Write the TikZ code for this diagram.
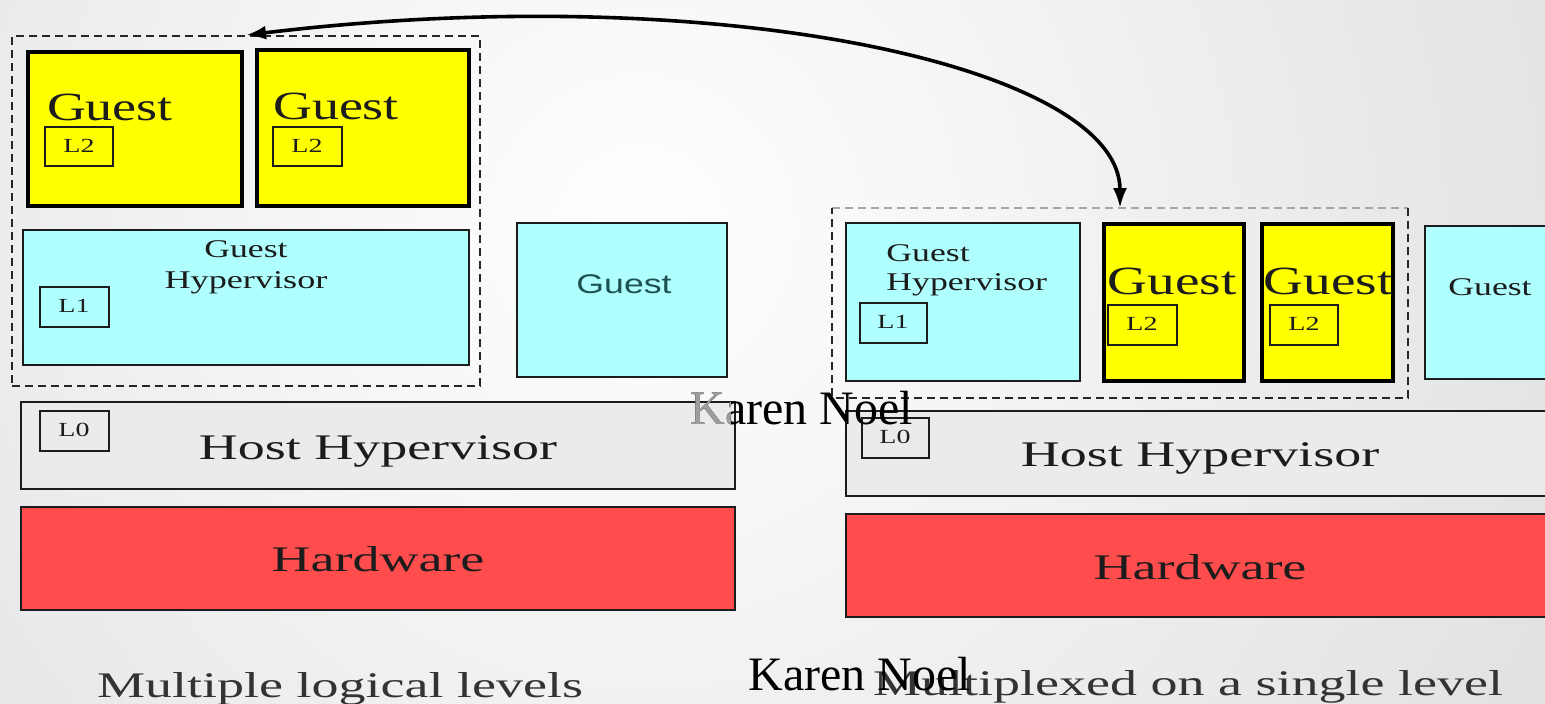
\documentclass[tikz,border=0pt]{standalone}
\usepackage{fontspec}
\setmainfont{Liberation Serif}
\newfontfamily\guestsans{Liberation Sans}
\usetikzlibrary{arrows.meta}

\definecolor{hvcyan}{HTML}{B0FFFF}
\definecolor{gyellow}{HTML}{FFFF00}
\definecolor{hostgray}{HTML}{EBEBEB}
\definecolor{hwred}{HTML}{FF4C4C}
\definecolor{bggray}{HTML}{D1D3D6}
\definecolor{inktxt}{HTML}{1C1C1C}
\definecolor{tealtxt}{HTML}{1E5252}

% stretched slide text
\newcommand{\wide}[2][1.45]{\scalebox{#1}[1]{#2}}
% box from corner (x1,y1) to corner (x2,y2), in pixels
\newcommand{\blk}[6]{\node[#2, minimum width={(#5-#3)*0.5pt}, minimum height={(#6-#4)*0.5pt}] (#1) at ({(#3+#5)/2},{(#4+#6)/2}) {};}

\tikzset{
	hvbox/.style={draw=inktxt, fill=hvcyan, line width=0.8pt, inner sep=0pt},
	guestbox/.style={draw=black, fill=gyellow, line width=2.3pt, inner sep=0pt},
	hostbox/.style={draw=inktxt, fill=hostgray, line width=0.8pt, inner sep=0pt},
	hwbox/.style={draw=inktxt, fill=hwred, line width=0.8pt, inner sep=0pt},
	lvlbox/.style={draw=inktxt, line width=0.8pt, inner sep=0pt},
	grpbox/.style={line width=0.9pt, dash pattern=on 4pt off 2.5pt, inner sep=0pt},
	boxtxt/.style={inner sep=0pt, text=inktxt, anchor=base},
	bigtxt/.style={boxtxt, font=\fontsize{20}{24}\selectfont},
	midtxt/.style={boxtxt, font=\fontsize{12.75}{15}\selectfont},
	lvltxt/.style={boxtxt, font=\fontsize{10}{12}\selectfont},
	layertxt/.style={boxtxt, font=\fontsize{18}{21}\selectfont},
	captxt/.style={inner sep=0pt, text=black!80, anchor=base, font=\fontsize{18}{21}\selectfont},
	nametxt/.style={inner sep=0pt, anchor=base west, font=\fontsize{24}{28}\selectfont}
}

\begin{document}
\begin{tikzpicture}[x=0.5pt, y=-0.5pt, >={Latex[length=10pt, width=7pt]}]
		%page size (pixels)
		\useasboundingbox (0,0) rectangle (1545,704);
		
		%background
		\begin{scope}
			\clip (0,0) rectangle (1545,704);
			\fill [bggray] (0,0) rectangle (1545,704);
			\shade [inner color=white, outer color=bggray] (640,230) circle [radius=1500];
		\end{scope}
		
		%%% left: multiple logical levels
		\blk{lgrp}{grpbox, draw=black!85}{12}{36}{480}{386}
		\blk{lg1}{guestbox}{28}{52}{242}{206}
		\blk{lg2}{guestbox}{257}{50}{469}{206}
		\node [bigtxt] (lg1t) at (110,121) {\wide[1.35]{Guest}};
		\node [bigtxt] (lg2t) at (336,120) {\wide[1.35]{Guest}};
		\blk{lg1l}{lvlbox}{45}{127}{113}{166}
		\blk{lg2l}{lvlbox}{273}{127}{342}{166}
		\node [lvltxt] (lg1lt) at (79,153) {\wide[1.4]{L2}};
		\node [lvltxt] (lg2lt) at (307,153) {\wide[1.4]{L2}};
		
		\blk{lgh}{hvbox}{23}{230}{469}{365}
		\node [midtxt] (lght) at (246,258) {\wide[1.4]{Guest}};
		\node [midtxt] (lghh) at (246,289) {\wide[1.42]{Hypervisor}};
		\blk{lghl}{lvlbox}{40}{287}{109}{327}
		\node [lvltxt] (lghlt) at (74,313) {\wide[1.4]{L1}};
		
		\blk{lgo}{hvbox}{517}{223}{727}{377}
		\node [boxtxt, text=tealtxt, font=\guestsans\fontsize{13.5}{16}\selectfont] (lgot) at (624,294) {\wide[1.32]{Guest}};
		
		\blk{lhost}{hostbox}{21}{402}{735}{489}
		\blk{lhostl}{lvlbox}{40}{411}{109}{451}
		\node [lvltxt] (lhostlt) at (74,437) {\wide[1.4]{L0}};
		\node [layertxt] (lhostt) at (378,460) {\wide[1.5]{Host Hypervisor}};
		
		\blk{lhw}{hwbox}{21}{507}{735}{610}
		\node [layertxt] (lhwt) at (378,571) {\wide[1.5]{Hardware}};
		
		\node [captxt] (lcap) at (340,697) {\wide[1.5]{Multiple logical levels}};
		
		%%% right: multiplexed on a single level
		\blk{rgrp}{grpbox}{833}{209}{1407}{397}
		\blk{rgh}{hvbox}{846}{223}{1080}{381}
		\node [midtxt, anchor=base west] (rght) at (886,262) {\wide[1.4]{Guest}};
		\node [midtxt, anchor=base west] (rghh) at (886,291) {\wide[1.4]{Hypervisor}};
		\blk{rghl}{lvlbox}{860}{303}{927}{343}
		\node [lvltxt] (rghlt) at (893,329) {\wide[1.4]{L1}};
		
		\blk{rg1}{guestbox}{1104}{224}{1244}{381}
		\blk{rg2}{guestbox}{1262}{224}{1393}{381}
		\node [bigtxt] (rg1t) at (1172,295) {\wide[1.38]{Guest}};
		\node [bigtxt] (rg2t) at (1328,295) {\wide[1.38]{Guest}};
		\blk{rg1l}{lvlbox}{1108}{305}{1177}{345}
		\blk{rg2l}{lvlbox}{1270}{305}{1338}{345}
		\node [lvltxt] (rg1lt) at (1142,331) {\wide[1.4]{L2}};
		\node [lvltxt] (rg2lt) at (1304,331) {\wide[1.4]{L2}};
		
		\blk{rgo}{hvbox}{1425}{226}{1570}{379}
		\node [midtxt] (rgot) at (1490,296) {\wide[1.4]{Guest}};
		
		\blk{rhost}{hostbox}{846}{411}{1570}{496}
		\blk{rhostl}{lvlbox}{862}{418}{929}{458}
		\node [lvltxt] (rhostlt) at (895,444) {\wide[1.4]{L0}};
		\node [layertxt] (rhostt) at (1200,467) {\wide[1.5]{Host Hypervisor}};
		
		\blk{rhw}{hwbox}{846}{514}{1570}{617}
		\node [layertxt] (rhwt) at (1200,579) {\wide[1.5]{Hardware}};
		
		\node [captxt] (rcap) at (1188,695) {\wide[1.5]{Multiplexed on a single level}};
		
		%dashed group on the right: grey top edge
		\draw [grpbox, draw=black!35] (rgrp.north west) -- (rgrp.north east);
		\draw [grpbox, draw=black!85] (rgrp.north east) -- (rgrp.south east) -- (rgrp.south west) -- (rgrp.north west);
		
		%move of the nested guests
		\draw [<->, line width=1.8pt] (rgrp.north) .. controls (1120,67) and (720,-22) .. (lgrp.north);
		
		%author marks
		\node [nametxt] (kn1) at (690,425) {Karen Noel};
		\begin{scope}
			\clip (600,360) rectangle (730,440);
			\node [nametxt, text=black!38] (kn1g) at (690,425) {Karen Noel};
		\end{scope}
		\node [nametxt] (kn2) at (748,690) {Karen Noel};
		
	\end{tikzpicture}
\end{document}
